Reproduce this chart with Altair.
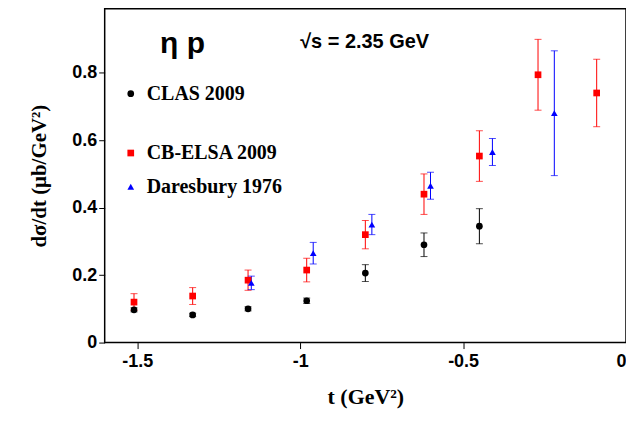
import altair as alt
import pandas as pd

# CLAS 2009
clas_t = [-1.51, -1.33, -1.16, -0.98, -0.80, -0.62, -0.45]
clas_y = [0.097, 0.082, 0.100, 0.124, 0.206, 0.290, 0.345]
clas_e = [0.006, 0.005, 0.006, 0.008, 0.025, 0.035, 0.052]
# CB-ELSA 2009
elsa_t = [-1.51, -1.33, -1.16, -0.98, -0.80, -0.62, -0.45, -0.27, -0.09]
elsa_y = [0.120, 0.138, 0.185, 0.215, 0.320, 0.440, 0.553, 0.794, 0.740]
elsa_e = [0.025, 0.025, 0.030, 0.035, 0.042, 0.060, 0.075, 0.105, 0.100]
# Daresbury 1976
dar_t = [-1.15, -0.96, -0.78, -0.60, -0.41, -0.22]
dar_y = [0.177, 0.265, 0.350, 0.465, 0.565, 0.680]
dar_e = [0.020, 0.032, 0.030, 0.040, 0.040, 0.185]

names = ["CLAS 2009", "CB-ELSA 2009", "Daresbury 1976"]
colors = ["black", "#ff0000", "#0000ff"]
shapes = ["circle", "square", "triangle-up"]

frames = []
for n, t, y, e in zip(names, [clas_t, elsa_t, dar_t], [clas_y, elsa_y, dar_y], [clas_e, elsa_e, dar_e]):
    d = pd.DataFrame({"t": t, "y": y, "e": e})
    d["lo"] = d.y - d.e
    d["hi"] = d.y + d.e
    d["s"] = n
    frames.append(d)
df = pd.concat(frames)

xs = alt.Scale(domain=[-1.6, 0], nice=False)
ys = alt.Scale(domain=[0, 0.99], nice=False)
col = alt.Color("s:N", scale=alt.Scale(domain=names, range=colors), legend=None)
shp = alt.Shape("s:N", scale=alt.Scale(domain=names, range=shapes), legend=None)

base = alt.Chart(df)
bars = base.mark_rule(strokeWidth=1).encode(
    x=alt.X("t:Q", scale=xs), y=alt.Y("lo:Q", scale=ys), y2="hi:Q", color=col)
caps_lo = base.mark_tick(orient="horizontal", size=7, thickness=1).encode(
    x=alt.X("t:Q", scale=xs), y=alt.Y("lo:Q", scale=ys), color=col)
caps_hi = base.mark_tick(orient="horizontal", size=7, thickness=1).encode(
    x=alt.X("t:Q", scale=xs), y=alt.Y("hi:Q", scale=ys), color=col)
pts = base.mark_point(filled=True, size=45, opacity=1).encode(
    x=alt.X("t:Q", scale=xs,
            axis=alt.Axis(title="t (GeV²)", values=[-1.5, -1, -0.5, 0], labelExpr="datum.value == 0 ? '0' : datum.value",
                          titleFont="Liberation Serif", titleFontSize=22, titleFontWeight="bold", titlePadding=16,
                          labelFont="Liberation Sans", labelFontSize=18, labelFontWeight="bold", labelPadding=4,
                          grid=False, tickSize=6, domain=False)),
    y=alt.Y("y:Q", scale=ys,
            axis=alt.Axis(title="dσ/dt (μb/GeV²)", values=[0, 0.2, 0.4, 0.6, 0.8],
                          labelExpr="datum.value == 0 ? '0' : format(datum.value, '.1f')",
                          titleFont="Liberation Serif", titleFontSize=21, titleFontWeight="bold", titlePadding=22,
                          labelFont="Liberation Sans", labelFontSize=18, labelFontWeight="bold",
                          grid=False, tickSize=6, domain=False)),
    color=col, shape=shp)

leg = pd.DataFrame({"s": names, "lx": [-1.52] * 3, "ly": [0.738, 0.562, 0.462]})
lb = alt.Chart(leg)
leg_pts = lb.mark_point(filled=True, size=45, opacity=1).encode(
    x=alt.X("lx:Q", scale=xs), y=alt.Y("ly:Q", scale=ys), color=col, shape=shp)
leg_txt = lb.mark_text(align="left", dx=16, font="Liberation Serif", fontSize=20, fontWeight="bold").encode(
    x=alt.X("lx:Q", scale=xs), y=alt.Y("ly:Q", scale=ys), text="s:N")

lab = pd.DataFrame({"lx": [-1.43, -1.0], "ly": [0.885, 0.89], "txt": ["η p", "√s = 2.35 GeV"], "fs": [30, 20]})
labels = alt.Chart(lab).mark_text(align="left", font="Liberation Sans", fontWeight="bold").encode(
    x=alt.X("lx:Q", scale=xs), y=alt.Y("ly:Q", scale=ys), text="txt:N",
    size=alt.Size("fs:Q", scale=None, legend=None))

chart = alt.layer(bars, caps_lo, caps_hi, pts, leg_pts, leg_txt, labels).properties(
    width=523, height=335,
    autosize=alt.AutoSizeParams(type="none"),
    padding={"left": 97, "top": 0, "right": 0, "bottom": 72},
).configure_view(stroke="black", strokeWidth=1.5).configure_axis(tickColor="black", labelColor="black", titleColor="black")

chart.save("out.html", embed_options={"renderer": "svg", "actions": False})
